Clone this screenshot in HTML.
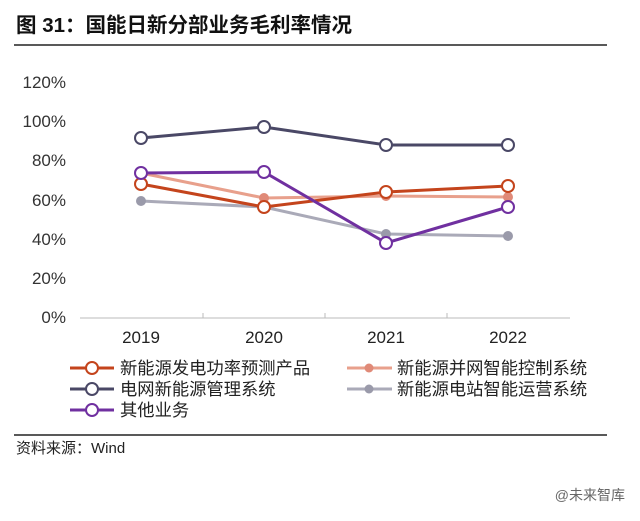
<!DOCTYPE html><html><head><meta charset="utf-8"><style>
body{margin:0;background:#fff;width:640px;height:516px;overflow:hidden;font-family:"Liberation Sans","Noto Sans CJK SC",sans-serif}
</style></head><body>
<svg width="640" height="516" xmlns="http://www.w3.org/2000/svg" font-family="Liberation Sans, Noto Sans CJK SC, sans-serif">
<text x="16" y="32" font-size="20.5" font-weight="bold" fill="#111">图 31：国能日新分部业务毛利率情况</text>
<line x1="14" y1="45" x2="607" y2="45" stroke="#222" stroke-width="1.5"/>
<g font-size="17" fill="#333" text-anchor="end">
<text x="66" y="88">120%</text><text x="66" y="127">100%</text><text x="66" y="166">80%</text><text x="66" y="206">60%</text><text x="66" y="245">40%</text><text x="66" y="284">20%</text><text x="66" y="323">0%</text>
</g>
<line x1="80" y1="318" x2="570" y2="318" stroke="#bbb" stroke-width="1"/>
<g stroke="#bbb"><line x1="203" y1="318" x2="203" y2="313"/><line x1="325" y1="318" x2="325" y2="313"/><line x1="447" y1="318" x2="447" y2="313"/></g>
<g font-size="17" fill="#222" text-anchor="middle"><text x="141" y="343">2019</text><text x="264" y="343">2020</text><text x="386" y="343">2021</text><text x="508" y="343">2022</text></g>
<g fill="none" stroke-width="3">
<polyline points="141,201 264,207 386,234 508,236" stroke="#aaaab8"/>
<polyline points="141,173 264,198 386,196 508,197" stroke="#e8a08c"/>
<polyline points="141,184 264,207 386,192 508,186" stroke="#c4441c"/>
<polyline points="141,138 264,127 386,145 508,145" stroke="#4a4866"/>
<polyline points="141,173 264,172 386,243 508,207" stroke="#7030a0"/>
</g>
<g fill="#9a9aaa"><circle cx="141" cy="201" r="5"/><circle cx="264" cy="207" r="5"/><circle cx="386" cy="234" r="5"/><circle cx="508" cy="236" r="5"/></g>
<g fill="#e08a78"><circle cx="264" cy="198" r="5"/><circle cx="386" cy="196" r="5"/><circle cx="508" cy="197" r="5"/></g>
<g fill="#fff" stroke-width="2">
<g stroke="#c4441c"><circle cx="141" cy="184" r="6"/><circle cx="264" cy="207" r="6"/><circle cx="386" cy="192" r="6"/><circle cx="508" cy="186" r="6"/></g>
<g stroke="#4a4866"><circle cx="141" cy="138" r="6"/><circle cx="264" cy="127" r="6"/><circle cx="386" cy="145" r="6"/><circle cx="508" cy="145" r="6"/></g>
<g stroke="#7030a0"><circle cx="141" cy="173" r="6"/><circle cx="264" cy="172" r="6"/><circle cx="386" cy="243" r="6"/><circle cx="508" cy="207" r="6"/></g>
</g>
<g stroke-width="3">
<line x1="70" y1="368" x2="114" y2="368" stroke="#c4441c"/><circle cx="92" cy="368" r="6" fill="#fff" stroke="#c4441c" stroke-width="2"/>
<line x1="70" y1="389" x2="114" y2="389" stroke="#4a4866"/><circle cx="92" cy="389" r="6" fill="#fff" stroke="#4a4866" stroke-width="2"/>
<line x1="70" y1="410" x2="114" y2="410" stroke="#7030a0"/><circle cx="92" cy="410" r="6" fill="#fff" stroke="#7030a0" stroke-width="2"/>
<line x1="347" y1="368" x2="392" y2="368" stroke="#e8a08c"/><circle cx="369" cy="368" r="4.5" fill="#e08a78" stroke="none"/>
<line x1="347" y1="389" x2="392" y2="389" stroke="#aaaab8"/><circle cx="369" cy="389" r="4.5" fill="#9a9aaa" stroke="none"/>
</g>
<g font-size="17.3" fill="#222">
<text x="120" y="374">新能源发电功率预测产品</text><text x="120" y="395">电网新能源管理系统</text><text x="120" y="416">其他业务</text>
<text x="397" y="374">新能源并网智能控制系统</text><text x="397" y="395">新能源电站智能运营系统</text>
</g>
<line x1="14" y1="435" x2="607" y2="435" stroke="#222" stroke-width="1.5"/>
<text x="16" y="453" font-size="15" fill="#222">资料来源：Wind</text>
<text x="625" y="500" font-size="14" fill="#666" text-anchor="end">@未来智库</text>
</svg>
</body></html>
